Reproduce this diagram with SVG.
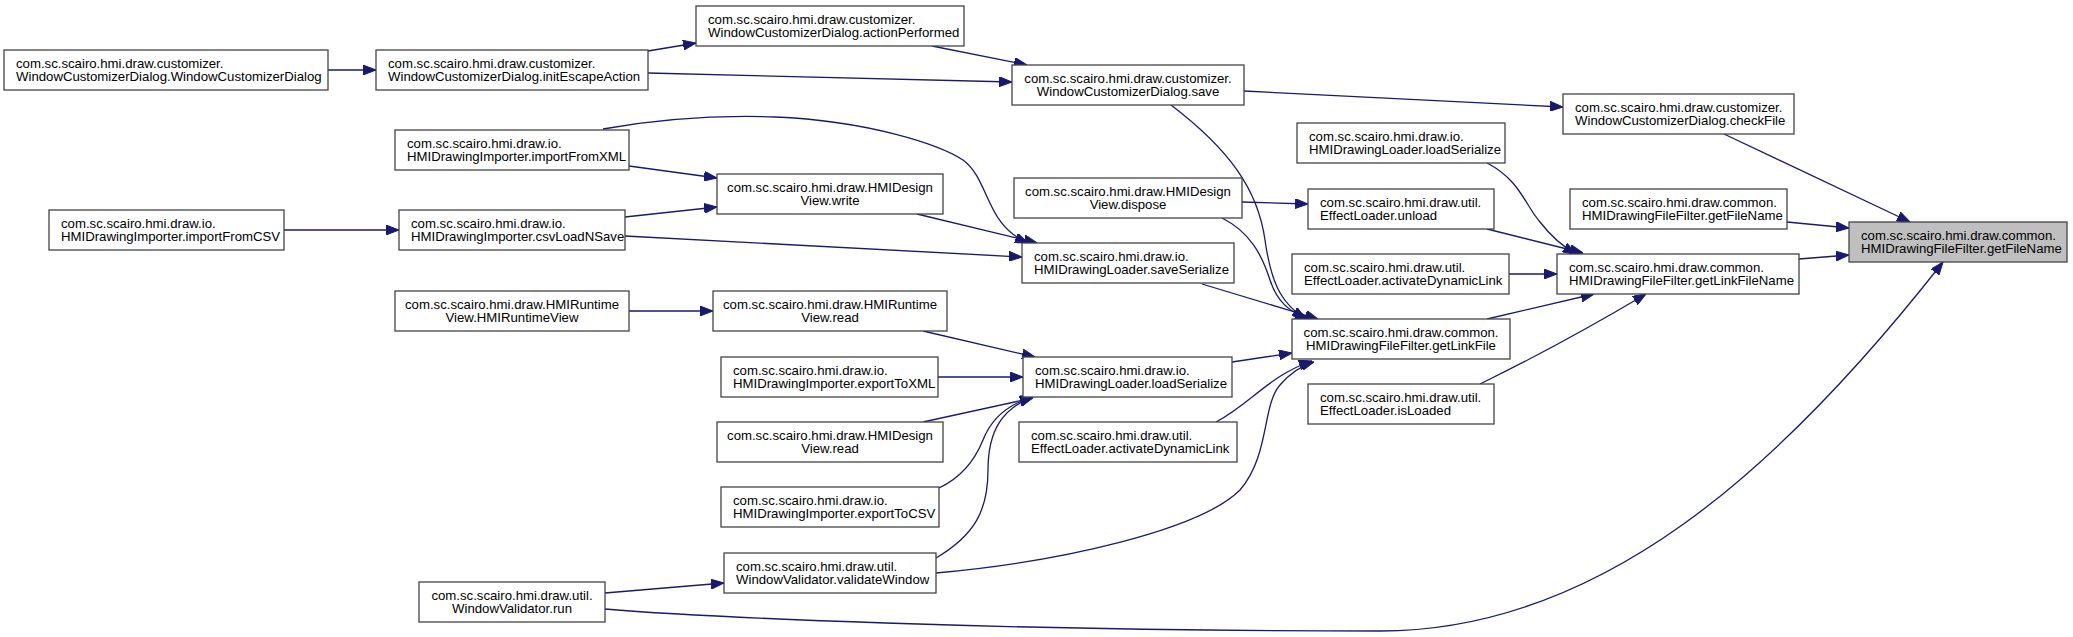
<svg xmlns="http://www.w3.org/2000/svg" width="2073" height="637" viewBox="0 0 2073 637">
<style>
.n rect{fill:#ffffff;stroke:#444444;stroke-width:1.3}
.n.t rect{fill:#bfbfbf}
.n text{font-family:"Liberation Sans",Arial,sans-serif;font-size:13.2px;fill:#000000}
.n text.c{text-anchor:middle}
#edges path{fill:none;stroke:#191970;stroke-width:1.3;marker-end:url(#ah)}
</style>
<defs>
<marker id="ah" viewBox="0 0 13 10" refX="13" refY="5" markerWidth="13" markerHeight="10" markerUnits="userSpaceOnUse" orient="auto">
<path d="M0,0 L13,5 L0,10 z" fill="#191970" stroke="#191970" stroke-width="1"/>
</marker>
</defs>
<rect x="0" y="0" width="2073" height="637" fill="#ffffff"/>
<g id="edges">
<path d="M328,70 L376,70"/>
<path d="M648,51 L696,43"/>
<path d="M648,73 L1012,82"/>
<path d="M932,46 L1027,65"/>
<path d="M1244,91 L1563,107"/>
<path d="M1724,134 L1910,222"/>
<path d="M1787,222 L1849,228"/>
<path d="M1799,259 L1849,255"/>
<path d="M605,609 C700,617 1000,631 1380,631 C1600,631 1780,470 1943,262"/>
<path d="M605,593 L724,583"/>
<path d="M936,558 C975,535 988,510 988,470 C988,430 1003,408 1033,397"/>
<path d="M939,488 C960,478 975,460 983,440 C990,422 1005,405 1033,397"/>
<path d="M936,573 C1060,562 1200,530 1240,490 C1270,455 1262,405 1280,385 C1290,373 1300,366 1314,362"/>
<path d="M923,422 L1033,398"/>
<path d="M938,377 L1023,377"/>
<path d="M923,331 L1035,357"/>
<path d="M629,311 L713,311"/>
<path d="M1232,362 L1292,353"/>
<path d="M1216,422 C1250,404 1270,375 1312,361"/>
<path d="M1202,284 L1318,319"/>
<path d="M1171,105 C1230,150 1258,190 1265,240 C1272,290 1285,305 1305,319"/>
<path d="M1222,218 C1250,232 1262,255 1270,280 C1277,302 1290,312 1308,319"/>
<path d="M1242,202 L1308,204"/>
<path d="M629,166 L717,178"/>
<path d="M625,217 L717,207"/>
<path d="M625,236 L1022,257"/>
<path d="M284,230 L399,230"/>
<path d="M603,129 C660,119 720,115 775,117 C870,121 940,145 963,160 C990,180 985,225 1028,243"/>
<path d="M917,214 L1037,243"/>
<path d="M1487,319 L1594,294"/>
<path d="M1480,384 Q1560,345 1646,294"/>
<path d="M1509,274 L1557,274"/>
<path d="M1487,229 L1583,253"/>
<path d="M1487,163 C1520,180 1525,205 1540,222 C1550,235 1560,245 1576,254"/>
</g>
<g id="n1" class="n"><rect x="4" y="50" width="324" height="40"/><text x="16" y="67.5">com.sc.scairo.hmi.draw.customizer.</text><text x="16" y="81">WindowCustomizerDialog.WindowCustomizerDialog</text></g>
<g id="n2" class="n"><rect x="376" y="50" width="272" height="40"/><text x="388" y="67.5">com.sc.scairo.hmi.draw.customizer.</text><text x="388" y="81">WindowCustomizerDialog.initEscapeAction</text></g>
<g id="n3" class="n"><rect x="395" y="130" width="234" height="40"/><text x="407" y="147.5">com.sc.scairo.hmi.draw.io.</text><text x="407" y="161">HMIDrawingImporter.importFromXML</text></g>
<g id="n4" class="n"><rect x="49" y="210" width="235" height="40"/><text x="61" y="227.5">com.sc.scairo.hmi.draw.io.</text><text x="61" y="241">HMIDrawingImporter.importFromCSV</text></g>
<g id="n5" class="n"><rect x="399" y="210" width="226" height="40"/><text x="411" y="227.5">com.sc.scairo.hmi.draw.io.</text><text x="411" y="241">HMIDrawingImporter.csvLoadNSave</text></g>
<g id="n6" class="n"><rect x="395" y="291" width="234" height="40"/><text class="c" x="512" y="308.5">com.sc.scairo.hmi.draw.HMIRuntime</text><text class="c" x="512" y="322">View.HMIRuntimeView</text></g>
<g id="n7" class="n"><rect x="696" y="6" width="268" height="40"/><text x="708" y="23.5">com.sc.scairo.hmi.draw.customizer.</text><text x="708" y="37">WindowCustomizerDialog.actionPerformed</text></g>
<g id="n8" class="n"><rect x="1012" y="65" width="232" height="40"/><text class="c" x="1128" y="82.5">com.sc.scairo.hmi.draw.customizer.</text><text class="c" x="1128" y="96">WindowCustomizerDialog.save</text></g>
<g id="n9" class="n"><rect x="717" y="174" width="226" height="40"/><text class="c" x="830" y="191.5">com.sc.scairo.hmi.draw.HMIDesign</text><text class="c" x="830" y="205">View.write</text></g>
<g id="n10" class="n"><rect x="1014" y="178" width="228" height="40"/><text class="c" x="1128" y="195.5">com.sc.scairo.hmi.draw.HMIDesign</text><text class="c" x="1128" y="209">View.dispose</text></g>
<g id="n11" class="n"><rect x="1022" y="243" width="212" height="40"/><text x="1034" y="260.5">com.sc.scairo.hmi.draw.io.</text><text x="1034" y="274">HMIDrawingLoader.saveSerialize</text></g>
<g id="n12" class="n"><rect x="713" y="291" width="234" height="40"/><text class="c" x="830" y="308.5">com.sc.scairo.hmi.draw.HMIRuntime</text><text class="c" x="830" y="322">View.read</text></g>
<g id="n13" class="n"><rect x="1297" y="123" width="208" height="40"/><text x="1309" y="140.5">com.sc.scairo.hmi.draw.io.</text><text x="1309" y="154">HMIDrawingLoader.loadSerialize</text></g>
<g id="n14" class="n"><rect x="1308" y="189" width="186" height="40"/><text x="1320" y="206.5">com.sc.scairo.hmi.draw.util.</text><text x="1320" y="220">EffectLoader.unload</text></g>
<g id="n15" class="n"><rect x="1292" y="254" width="217" height="40"/><text x="1304" y="271.5">com.sc.scairo.hmi.draw.util.</text><text x="1304" y="285">EffectLoader.activateDynamicLink</text></g>
<g id="n16" class="n"><rect x="1292" y="319" width="218" height="40"/><text class="c" x="1401" y="336.5">com.sc.scairo.hmi.draw.common.</text><text class="c" x="1401" y="350">HMIDrawingFileFilter.getLinkFile</text></g>
<g id="n17" class="n"><rect x="1563" y="94" width="231" height="40"/><text x="1575" y="111.5">com.sc.scairo.hmi.draw.customizer.</text><text x="1575" y="125">WindowCustomizerDialog.checkFile</text></g>
<g id="n18" class="n"><rect x="1570" y="189" width="217" height="40"/><text x="1582" y="206.5">com.sc.scairo.hmi.draw.common.</text><text x="1582" y="220">HMIDrawingFileFilter.getFileName</text></g>
<g id="n19" class="n t"><rect x="1849" y="222" width="218" height="40"/><text x="1861" y="239.5">com.sc.scairo.hmi.draw.common.</text><text x="1861" y="253">HMIDrawingFileFilter.getFileName</text></g>
<g id="n20" class="n"><rect x="1557" y="254" width="242" height="40"/><text x="1569" y="271.5">com.sc.scairo.hmi.draw.common.</text><text x="1569" y="285">HMIDrawingFileFilter.getLinkFileName</text></g>
<g id="n21" class="n"><rect x="721" y="357" width="217" height="40"/><text x="733" y="374.5">com.sc.scairo.hmi.draw.io.</text><text x="733" y="388">HMIDrawingImporter.exportToXML</text></g>
<g id="n22" class="n"><rect x="1023" y="357" width="209" height="40"/><text x="1035" y="374.5">com.sc.scairo.hmi.draw.io.</text><text x="1035" y="388">HMIDrawingLoader.loadSerialize</text></g>
<g id="n23" class="n"><rect x="717" y="422" width="226" height="40"/><text class="c" x="830" y="439.5">com.sc.scairo.hmi.draw.HMIDesign</text><text class="c" x="830" y="453">View.read</text></g>
<g id="n24" class="n"><rect x="1019" y="422" width="218" height="40"/><text x="1031" y="439.5">com.sc.scairo.hmi.draw.util.</text><text x="1031" y="453">EffectLoader.activateDynamicLink</text></g>
<g id="n25" class="n"><rect x="721" y="487" width="218" height="40"/><text x="733" y="504.5">com.sc.scairo.hmi.draw.io.</text><text x="733" y="518">HMIDrawingImporter.exportToCSV</text></g>
<g id="n26" class="n"><rect x="724" y="553" width="212" height="40"/><text x="736" y="570.5">com.sc.scairo.hmi.draw.util.</text><text x="736" y="584">WindowValidator.validateWindow</text></g>
<g id="n27" class="n"><rect x="419" y="582" width="186" height="40"/><text class="c" x="512" y="599.5">com.sc.scairo.hmi.draw.util.</text><text class="c" x="512" y="613">WindowValidator.run</text></g>
<g id="n28" class="n"><rect x="1308" y="384" width="186" height="40"/><text x="1320" y="401.5">com.sc.scairo.hmi.draw.util.</text><text x="1320" y="415">EffectLoader.isLoaded</text></g>
</svg>
